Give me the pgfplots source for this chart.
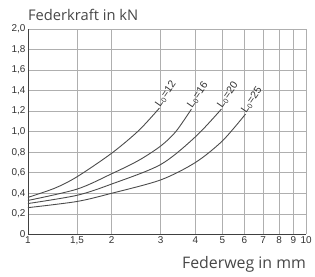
\documentclass[border=0pt]{standalone}
\usepackage{pgfplots}
\pgfplotsset{compat=1.18}
\usepackage{fontspec}
\setmainfont{Liberation Sans}
\newfontfamily\titlefont{Open Sans}
\definecolor{gridc}{RGB}{175,175,175}
\definecolor{curvec}{RGB}{75,75,75}
\begin{document}
\begin{tikzpicture}
\begin{axis}[
  scale only axis, width=279bp, height=206bp,
  xmode=log, xmin=1, xmax=10, ymin=0, ymax=2,
  xtick={1,1.5,2,3,4,5,6,7,8,9,10},
  xticklabels={1,{1,5},2,3,4,5,6,7,8,9,10},
  ytick={0,0.2,0.4,0.6,0.8,1.0,1.2,1.4,1.6,1.8,2.0},
  yticklabels={0,{0,2},{0,4},{0,6},{0,8},{1,0},{1,2},{1,4},{1,6},{1,8},{2,0}},
  axis x line*=bottom, axis y line*=left,
  axis line style={black!75, line width=0.7pt, -},
  grid=major, major grid style={gridc, line width=0.6pt},
  tick style={draw=none},
  tick label style={font=\fontsize{10}{12}\selectfont, text=black!80},
  xticklabel style={yshift=1bp},
  yticklabel style={xshift=1bp},
]
\addplot[curvec, line width=0.9pt, smooth, no markers] coordinates {(1,0.36) (1.25,0.45) (1.5,0.56) (2,0.79) (2.5,1.01) (2.97,1.23)};
\addplot[curvec, line width=0.9pt, smooth, no markers] coordinates {(1,0.33) (1.5,0.44) (2,0.59) (2.5,0.72) (3,0.86) (3.4,1.00) (3.87,1.22)};
\addplot[curvec, line width=0.9pt, smooth, no markers] coordinates {(1,0.30) (1.5,0.38) (2,0.49) (3,0.68) (4,0.95) (4.96,1.22)};
\addplot[curvec, line width=0.9pt, smooth, no markers] coordinates {(1,0.26) (1.5,0.32) (2,0.40) (3,0.53) (4,0.70) (5,0.91) (6.05,1.17)};
\node[rotate=55, anchor=base west, font=\fontsize{10.5}{12}\selectfont, text=black!80, inner sep=1bp] at (axis cs:2.97,1.23) {L\textsubscript{0}=12};
\node[rotate=55, anchor=base west, font=\fontsize{10.5}{12}\selectfont, text=black!80, inner sep=1bp] at (axis cs:3.87,1.22) {L\textsubscript{0}=16};
\node[rotate=55, anchor=base west, font=\fontsize{10.5}{12}\selectfont, text=black!80, inner sep=1bp] at (axis cs:4.96,1.22) {L\textsubscript{0}=20};
\node[rotate=55, anchor=base west, font=\fontsize{10.5}{12}\selectfont, text=black!80, inner sep=1bp] at (axis cs:6.05,1.17) {L\textsubscript{0}=25};
\end{axis}
\node[anchor=base west, font=\titlefont\fontsize{14.8}{17}\selectfont, text=black!72, inner sep=0pt] at ([yshift=8bp]current axis.north west) {Federkraft in kN};
\node[anchor=base east, font=\titlefont\fontsize{16}{19}\selectfont, text=black!72, inner sep=0pt] at ([yshift=-34bp]current axis.south east) {Federweg in mm};
\path (current axis.south west) ++(-28bp,-42bp) rectangle ([xshift=8bp,yshift=29bp]current axis.north east);
\end{tikzpicture}
\end{document}
